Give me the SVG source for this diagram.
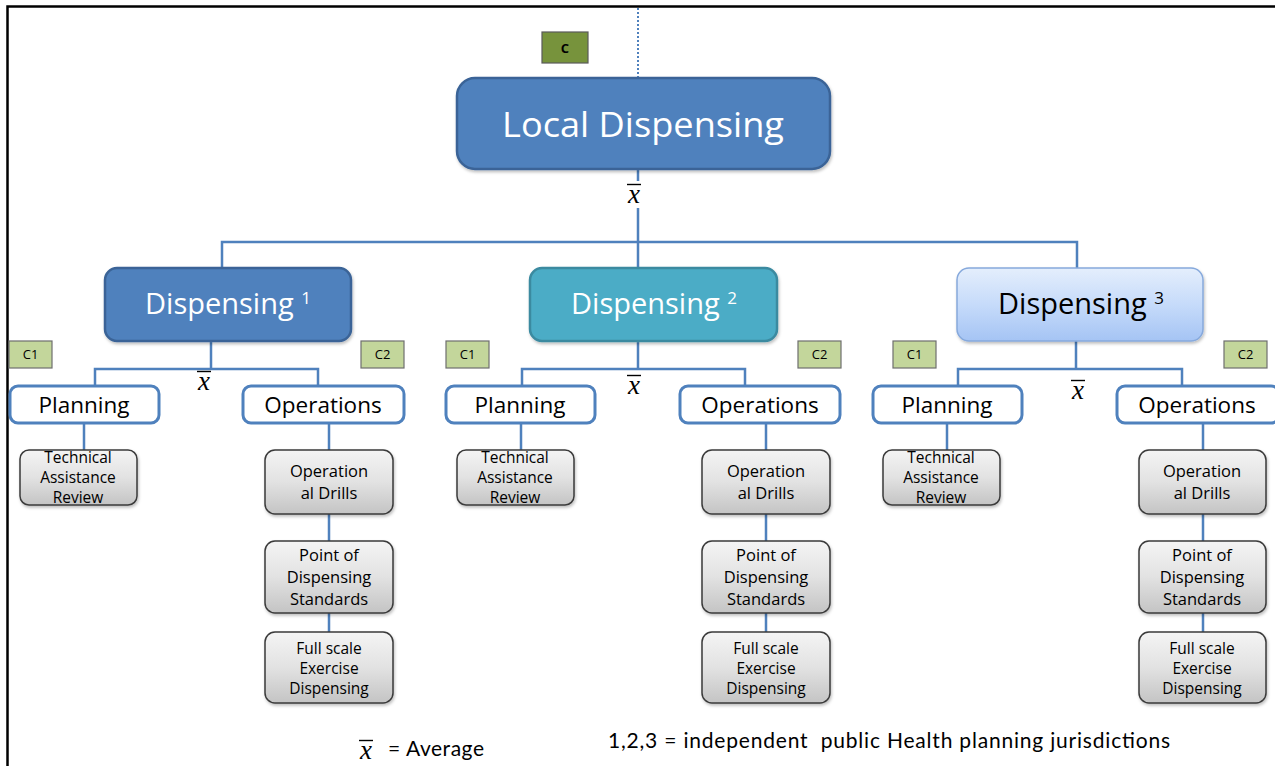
<svg xmlns="http://www.w3.org/2000/svg" width="1275" height="766" viewBox="0 0 1275 766">
  <defs>
    <linearGradient id="gGray" x1="0" y1="0" x2="0" y2="1">
      <stop offset="0" stop-color="#f4f4f4"/>
      <stop offset="0.5" stop-color="#e2e2e2"/>
      <stop offset="1" stop-color="#c4c4c4"/>
    </linearGradient>
    <linearGradient id="gLight" x1="0" y1="0" x2="0" y2="1">
      <stop offset="0" stop-color="#e4eefc"/>
      <stop offset="0.5" stop-color="#c6dbfa"/>
      <stop offset="1" stop-color="#a5c4f4"/>
    </linearGradient>
    <filter id="shadow" x="-10%" y="-10%" width="130%" height="140%">
      <feDropShadow dx="1" dy="2" stdDeviation="1.5" flood-color="#000" flood-opacity="0.25"/>
    </filter>
  </defs>
  <style>
    .frame { stroke: #000; stroke-width: 2.5; fill: none; }
    .link { stroke: #4f81bd; stroke-width: 2.5; fill: none; }
    .dotted { stroke: #4f81bd; stroke-width: 2; stroke-dasharray: 2 2; fill: none; }
    .top { fill: #4f81bd; stroke: #3a6497; stroke-width: 2.5; }
    .d1 { fill: #4f81bd; stroke: #3a6497; stroke-width: 2.5; }
    .d2 { fill: #4bacc6; stroke: #3a8aa0; stroke-width: 2.5; }
    .d3 { fill: url(#gLight); stroke: #86a9dc; stroke-width: 1.5; }
    .sub { fill: #fff; stroke: #4f81bd; stroke-width: 3; }
    .leaf { fill: url(#gGray); stroke: #3a3a3a; stroke-width: 1.5; }
    .cTop { fill: #77933c; stroke: #5a5a5a; stroke-width: 1.2; }
    .cTag { fill: #c3d69b; stroke: #6e6e6e; stroke-width: 1.2; }
    text { font-family: "Open Sans", Lato, "Liberation Sans", sans-serif; text-anchor: middle; }
    .big { font-size: 35px; fill: #fff; }
    .mid { font-size: 29px; }
    .sup { font-size: 17px; }
    .lbl { font-size: 22.5px; fill: #000; }
    .small { font-size: 16.5px; fill: #000; }
    .tight { font-size: 15.5px; }
    .tag { font-size: 13px; fill: #000; }
    .xbar { font-family: "Liberation Serif", "DejaVu Serif", serif; font-style: italic; font-size: 27px; fill: #000; }
    .bar { stroke: #000; stroke-width: 1.4; }
    .note { font-family: Lato, "Open Sans", sans-serif; font-size: 21px; fill: #000; text-anchor: start; }
  </style>

  <rect width="1275" height="766" fill="#fff"/>

  <!-- page frame -->
  <path class="frame" d="M7.5,766 V6.5 H1275"/>

  <!-- connectors -->
  <g id="connectors">
    <line class="dotted" x1="638" y1="8" x2="638" y2="78"/>
    <path class="link" d="M638,169 V181 M638,208 V242 M222,268 V242 H1077 V268 M638,242 V268"/>
    <!-- column 1 -->
    <path class="link" d="M211,341 V369 M95,386 V369 H318 V386"/>
    <path class="link" d="M84,423 V450 M329,423 V450 M329,514 V541 M329,613 V632"/>
    <!-- column 2 -->
    <path class="link" d="M638,341 V369 M522,386 V369 H745 V386"/>
    <path class="link" d="M521,423 V450 M766,423 V450 M766,514 V541 M766,613 V632"/>
    <!-- column 3 -->
    <path class="link" d="M1076,341 V369 M958,386 V369 H1182 V386"/>
    <path class="link" d="M947,423 V450 M1203,423 V450 M1203,514 V541 M1203,613 V632"/>
  </g>

  <!-- root -->
  <g id="c-root">
    <rect class="cTop" x="542" y="32" width="46" height="31"/>
    <text class="tag" x="565" y="52.5" font-weight="bold">C</text>
  </g>
  <g id="local-dispensing">
    <rect class="top" x="457" y="78" width="373" height="91" rx="18" filter="url(#shadow)"/>
    <text class="big" x="643" y="137" textLength="282" lengthAdjust="spacingAndGlyphs">Local Dispensing</text>
  </g>
  <g id="avg-root">
    <text class="xbar" x="634" y="203">x</text>
    <line class="bar" x1="627" y1="184.5" x2="641" y2="184.5"/>
  </g>

  <!-- column 1 -->
  <g id="dispensing-1">
    <rect class="d1" x="105" y="268" width="246" height="73" rx="12" filter="url(#shadow)"/>
    <text class="mid" x="228" y="314" fill="#fff">Dispensing <tspan class="sup" dy="-10">1</tspan></text>
  </g>
  <g id="c1-1"><rect class="cTag" x="9" y="341" width="43" height="27"/><text class="tag" x="30.5" y="359">C1</text></g>
  <g id="c2-1"><rect class="cTag" x="361" y="341" width="43" height="27"/><text class="tag" x="382.5" y="359">C2</text></g>
  <g id="avg-1">
    <text class="xbar" x="204" y="390">x</text>
    <line class="bar" x1="197" y1="371.5" x2="211" y2="371.5"/>
  </g>
  <g id="planning-1">
    <rect class="sub" x="10" y="386" width="149" height="37" rx="8"/>
    <text class="lbl" x="84" y="413">Planning</text>
  </g>
  <g id="operations-1">
    <rect class="sub" x="243" y="386" width="161" height="37" rx="8"/>
    <text class="lbl" x="323" y="413">Operations</text>
  </g>
  <g id="tar-1">
    <rect class="leaf" x="20" y="450" width="117" height="55" rx="9" filter="url(#shadow)"/>
    <text class="small tight"><tspan x="78" y="463">Technical</tspan><tspan x="78" y="483">Assistance</tspan><tspan x="78" y="503">Review</tspan></text>
  </g>
  <g id="drills-1">
    <rect class="leaf" x="265" y="450" width="128" height="64" rx="10" filter="url(#shadow)"/>
    <text class="small"><tspan x="329" y="477">Operation</tspan><tspan x="329" y="499">al Drills</tspan></text>
  </g>
  <g id="pod-1">
    <rect class="leaf" x="265" y="541" width="128" height="72" rx="10" filter="url(#shadow)"/>
    <text class="small"><tspan x="329" y="561">Point of</tspan><tspan x="329" y="583">Dispensing</tspan><tspan x="329" y="605">Standards</tspan></text>
  </g>
  <g id="exercise-1">
    <rect class="leaf" x="265" y="632" width="128" height="71" rx="10" filter="url(#shadow)"/>
    <text class="small tight"><tspan x="329" y="654">Full scale</tspan><tspan x="329" y="674">Exercise</tspan><tspan x="329" y="694">Dispensing</tspan></text>
  </g>

  <!-- column 2 -->
  <g id="dispensing-2">
    <rect class="d2" x="530" y="268" width="247" height="73" rx="12" filter="url(#shadow)"/>
    <text class="mid" x="654" y="314" fill="#fff">Dispensing <tspan class="sup" dy="-10">2</tspan></text>
  </g>
  <g id="c1-2"><rect class="cTag" x="446" y="341" width="43" height="27"/><text class="tag" x="467.5" y="359">C1</text></g>
  <g id="c2-2"><rect class="cTag" x="798" y="341" width="43" height="27"/><text class="tag" x="819.5" y="359">C2</text></g>
  <g id="avg-2">
    <text class="xbar" x="634" y="394">x</text>
    <line class="bar" x1="627" y1="375.5" x2="641" y2="375.5"/>
  </g>
  <g id="planning-2">
    <rect class="sub" x="446" y="386" width="149" height="37" rx="8"/>
    <text class="lbl" x="520" y="413">Planning</text>
  </g>
  <g id="operations-2">
    <rect class="sub" x="680" y="386" width="160" height="37" rx="8"/>
    <text class="lbl" x="760" y="413">Operations</text>
  </g>
  <g id="tar-2">
    <rect class="leaf" x="457" y="450" width="117" height="55" rx="9" filter="url(#shadow)"/>
    <text class="small tight"><tspan x="515" y="463">Technical</tspan><tspan x="515" y="483">Assistance</tspan><tspan x="515" y="503">Review</tspan></text>
  </g>
  <g id="drills-2">
    <rect class="leaf" x="702" y="450" width="128" height="64" rx="10" filter="url(#shadow)"/>
    <text class="small"><tspan x="766" y="477">Operation</tspan><tspan x="766" y="499">al Drills</tspan></text>
  </g>
  <g id="pod-2">
    <rect class="leaf" x="702" y="541" width="128" height="72" rx="10" filter="url(#shadow)"/>
    <text class="small"><tspan x="766" y="561">Point of</tspan><tspan x="766" y="583">Dispensing</tspan><tspan x="766" y="605">Standards</tspan></text>
  </g>
  <g id="exercise-2">
    <rect class="leaf" x="702" y="632" width="128" height="71" rx="10" filter="url(#shadow)"/>
    <text class="small tight"><tspan x="766" y="654">Full scale</tspan><tspan x="766" y="674">Exercise</tspan><tspan x="766" y="694">Dispensing</tspan></text>
  </g>

  <!-- column 3 -->
  <g id="dispensing-3">
    <rect class="d3" x="957" y="268" width="246" height="73" rx="12" filter="url(#shadow)"/>
    <text class="mid" x="1081" y="314" fill="#000">Dispensing <tspan class="sup" dy="-10">3</tspan></text>
  </g>
  <g id="c1-3"><rect class="cTag" x="893" y="341" width="43" height="27"/><text class="tag" x="914.5" y="359">C1</text></g>
  <g id="c2-3"><rect class="cTag" x="1224" y="341" width="43" height="27"/><text class="tag" x="1245.5" y="359">C2</text></g>
  <g id="avg-3">
    <text class="xbar" x="1078" y="399">x</text>
    <line class="bar" x1="1071" y1="380.5" x2="1085" y2="380.5"/>
  </g>
  <g id="planning-3">
    <rect class="sub" x="873" y="386" width="149" height="37" rx="8"/>
    <text class="lbl" x="947" y="413">Planning</text>
  </g>
  <g id="operations-3">
    <rect class="sub" x="1117" y="386" width="162" height="37" rx="8"/>
    <text class="lbl" x="1197" y="413">Operations</text>
  </g>
  <g id="tar-3">
    <rect class="leaf" x="883" y="450" width="117" height="55" rx="9" filter="url(#shadow)"/>
    <text class="small tight"><tspan x="941" y="463">Technical</tspan><tspan x="941" y="483">Assistance</tspan><tspan x="941" y="503">Review</tspan></text>
  </g>
  <g id="drills-3">
    <rect class="leaf" x="1139" y="450" width="127" height="64" rx="10" filter="url(#shadow)"/>
    <text class="small"><tspan x="1202" y="477">Operation</tspan><tspan x="1202" y="499">al Drills</tspan></text>
  </g>
  <g id="pod-3">
    <rect class="leaf" x="1139" y="541" width="127" height="72" rx="10" filter="url(#shadow)"/>
    <text class="small"><tspan x="1202" y="561">Point of</tspan><tspan x="1202" y="583">Dispensing</tspan><tspan x="1202" y="605">Standards</tspan></text>
  </g>
  <g id="exercise-3">
    <rect class="leaf" x="1139" y="632" width="127" height="71" rx="10" filter="url(#shadow)"/>
    <text class="small tight"><tspan x="1202" y="654">Full scale</tspan><tspan x="1202" y="674">Exercise</tspan><tspan x="1202" y="694">Dispensing</tspan></text>
  </g>

  <!-- legend -->
  <g id="legend">
    <text class="xbar" x="366" y="759">x</text>
    <line class="bar" x1="359" y1="740.5" x2="373" y2="740.5"/>
    <text class="note" x="388" y="756" font-size="20" textLength="96" lengthAdjust="spacing">= Average</text>
    <text class="note" x="608" y="748" xml:space="preserve" textLength="562" lengthAdjust="spacing">1,2,3 = independent  public Health planning jurisdictions</text>
  </g>
</svg>
